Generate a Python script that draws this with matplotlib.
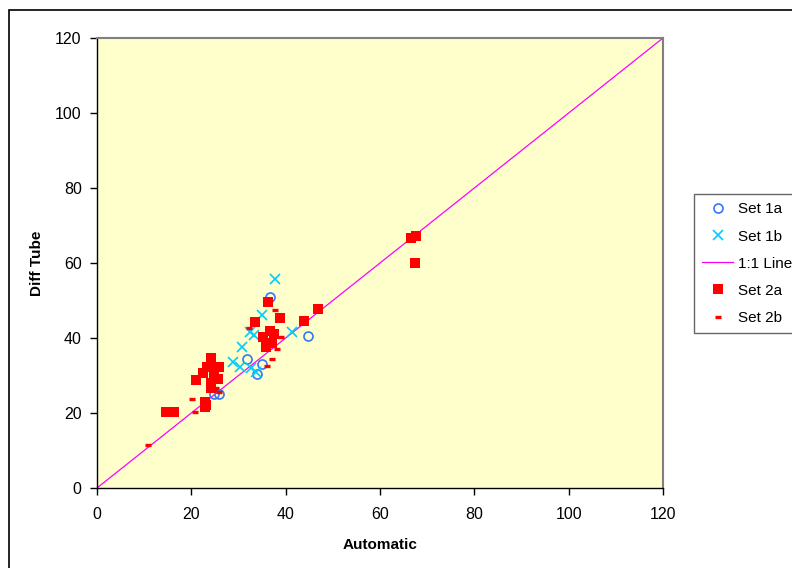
import matplotlib.pyplot as plt
from matplotlib.patches import Rectangle

plt.rcParams['font.family'] = ['Liberation Sans', 'DejaVu Sans']
plt.rcParams['font.size'] = 11

# automatic vs diffusion tube readings
set1a_x = [36.7, 44.7, 31.9, 34.9, 33.9, 24.7, 25.9]
set1a_y = [51.0, 40.5, 34.4, 33.0, 30.4, 25.2, 25.2]

set1b_x = [37.7, 34.9, 32.4, 33.3, 41.3, 30.7, 28.9, 30.3, 32.6, 33.8]
set1b_y = [55.7, 46.1, 41.7, 40.8, 41.5, 37.5, 33.5, 32.4, 31.9, 30.9]

set2a_x = [66.5, 67.6, 67.4, 46.8, 43.9, 38.8, 36.2, 33.6, 36.7, 37.6, 35.3,
           37.0, 35.8, 24.2, 24.2, 23.3, 25.9, 22.5, 24.7, 25.6, 21.0, 24.1,
           24.1, 23.0, 23.0, 14.6, 16.4, 23.1]
set2a_y = [66.6, 67.3, 60.1, 47.7, 44.5, 45.3, 49.6, 44.2, 41.9, 41.1, 40.2,
           38.6, 37.7, 34.6, 33.2, 32.2, 32.3, 30.6, 30.6, 29.2, 28.8, 27.9,
           26.6, 23.0, 21.5, 20.4, 20.4, 22.1]

set2b_x = [10.9, 20.1, 20.8, 37.7, 32.2, 39.0, 38.1, 37.0, 36.1, 25.2, 24.7, 25.9]
set2b_y = [11.6, 23.7, 20.2, 47.5, 42.6, 40.2, 37.2, 34.4, 32.5, 26.6, 26.1, 25.7]

line_xy = [0, 120]

fig = plt.figure(figsize=(7.92, 5.68), dpi=100)
ax = fig.add_axes([97/792, 1 - 488/568, 566/792, 450/568])
ax.set_facecolor('#FFFFCC')

# outer chart border
fig.patches.append(Rectangle((9/792, -0.1), 1.2, 1 - 10/568 + 0.1,
                             transform=fig.transFigure, fill=False,
                             edgecolor='black', linewidth=1.2, zorder=0))

ax.plot(set1a_x, set1a_y, 'o', ls='none', mfc='none', mec='#3377FF',
        ms=6.5, mew=1.2, label='Set 1a', zorder=3)
ax.plot(set1b_x, set1b_y, 'x', ls='none', color='#00CCFF',
        ms=7.5, mew=1.2, label='Set 1b', zorder=3)
ax.plot(line_xy, line_xy, color='#FF00FF', lw=0.9, label='1:1 Line', zorder=2)
ax.plot(set2a_x, set2a_y, 's', ls='none', color='#FF0000',
        ms=6.5, mew=0, label='Set 2a', zorder=4)
ax.plot(set2b_x, set2b_y, '_', ls='none', color='#FF0000',
        ms=5, mew=2.4, label='Set 2b', zorder=4)

ax.set_xlim(0, 120)
ax.set_ylim(0, 120)
ax.set_xticks(range(0, 121, 20))
ax.set_yticks(range(0, 121, 20))
ax.tick_params(direction='out', length=5, width=1, labelsize=11.5)
ax.tick_params(axis='x', pad=9)
ax.tick_params(axis='y', pad=6)

for side in ['left', 'bottom']:
    ax.spines[side].set_color('black')
    ax.spines[side].set_linewidth(1)
for side in ['top', 'right']:
    ax.spines[side].set_color('#808080')
    ax.spines[side].set_linewidth(1.5)

ax.set_xlabel('Automatic', fontweight='bold', fontsize=11, labelpad=11)
ax.set_ylabel('Diff Tube', fontweight='bold', fontsize=11, labelpad=8)

leg = fig.legend(loc='upper left', bbox_to_anchor=(694/792, 1 - 194/568),
                 frameon=True, fancybox=False, edgecolor='#404040',
                 fontsize=11, labelspacing=0.86, handlelength=2.0,
                 borderpad=0.55, borderaxespad=0, handletextpad=0.3)
leg.get_frame().set_linewidth(1)

fig.savefig('out.png', dpi=100)
